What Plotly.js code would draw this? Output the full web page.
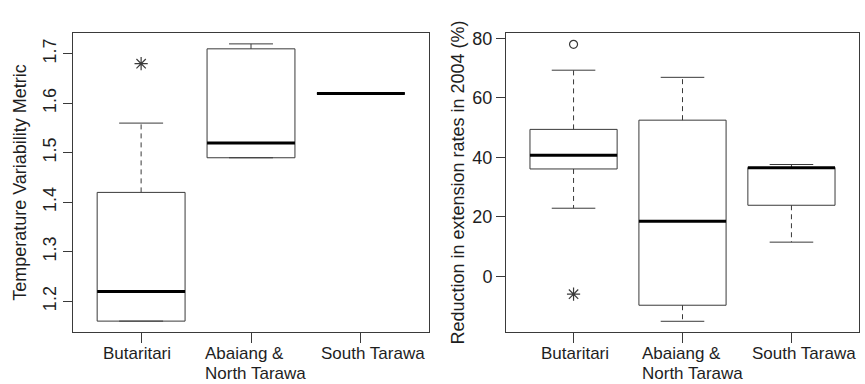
<!DOCTYPE html>
<html>
<head>
<meta charset="utf-8">
<script src="https://cdn.plot.ly/plotly-3.0.1.min.js"></script>
<style>html,body{margin:0;padding:0;background:#fff;}#chart{width:865px;height:384px;}</style>
</head>
<body>
<div id="chart"></div>
<script>
// ---- Data ----
const categories = ['Butaritari', 'Abaiang &<br>North Tarawa', 'South Tarawa'];
const groupPos = [1, 2, 3];

// Left panel: Temperature Variability Metric
const tvmLower  = [1.16, 1.49, 1.62];
const tvmQ1     = [1.16, 1.49, 1.62];
const tvmMedian = [1.22, 1.52, 1.62];
const tvmQ3     = [1.42, 1.71, 1.62];
const tvmUpper  = [1.56, 1.72, 1.62];
const tvmOutStarGroup = [1];
const tvmOutStarValue = [1.68];
const tvmTicks = [1.2, 1.3, 1.4, 1.5, 1.6, 1.7];

// Right panel: Reduction in extension rates in 2004 (%)
const redLower  = [22.9, -15.1, 11.5];
const redQ1     = [36.1, -9.7, 23.9];
const redMedian = [40.7, 18.5, 36.5];
const redQ3     = [49.4, 52.5, 36.6];
const redUpper  = [69.3, 66.9, 37.6];
const redOutCircleGroup = [1];
const redOutCircleValue = [78];
const redOutStarGroup = [1];
const redOutStarValue = [-6];
const redTicks = [0, 20, 40, 60, 80];

// ---- Styles ----
const BOX_HALF = 0.4, CAP_HALF = 0.2;
const LINE_COL = '#3a3a3a', MED_COL = '#000000', TXT_COL = '#1e1e1e';
const FONT = 'Liberation Sans, Arial, sans-serif';
const FS = 18;
const FS_CAT = 17;
// small horizontal nudges (px) of the category label blocks, as in the reference
const labelNudgeLeft  = [-5, 4, 11];
const labelNudgeRight = [0, 9, 12];
const LABEL_LINE_SHIFTS = [-10.8, -31.3];

function boxTraces(lower, q1, med, q3, upper, xa, ya) {
  const bx = [], by = [], wx = [], wy = [], cx = [], cy = [], mx = [], my = [];
  groupPos.forEach((p, i) => {
    bx.push(p - BOX_HALF, p + BOX_HALF, p + BOX_HALF, p - BOX_HALF, p - BOX_HALF, null);
    by.push(q1[i], q1[i], q3[i], q3[i], q1[i], null);
    wx.push(p, p, null, p, p, null);
    wy.push(q3[i], upper[i], null, q1[i], lower[i], null);
    cx.push(p - CAP_HALF, p + CAP_HALF, null, p - CAP_HALF, p + CAP_HALF, null);
    cy.push(upper[i], upper[i], null, lower[i], lower[i], null);
    mx.push(p - BOX_HALF, p + BOX_HALF, null);
    my.push(med[i], med[i], null);
  });
  const base = {type: 'scatter', mode: 'lines', xaxis: xa, yaxis: ya, hoverinfo: 'skip', showlegend: false, connectgaps: false};
  return [
    Object.assign({}, base, {x: wx, y: wy, line: {color: LINE_COL, width: 1, dash: '5px,4px'}}),
    Object.assign({}, base, {x: cx, y: cy, line: {color: LINE_COL, width: 1}}),
    Object.assign({}, base, {x: bx, y: by, line: {color: LINE_COL, width: 1}}),
    Object.assign({}, base, {x: mx, y: my, line: {color: MED_COL, width: 3}})
  ];
}

const starMarker = {symbol: 'asterisk-open', size: 11, color: LINE_COL, line: {color: LINE_COL, width: 1.2}};
const traces = [].concat(
  boxTraces(tvmLower, tvmQ1, tvmMedian, tvmQ3, tvmUpper, 'x', 'y'),
  boxTraces(redLower, redQ1, redMedian, redQ3, redUpper, 'x2', 'y2'),
  [
    {type: 'scatter', mode: 'markers', x: tvmOutStarGroup, y: tvmOutStarValue, xaxis: 'x', yaxis: 'y', showlegend: false, marker: starMarker},
    {type: 'scatter', mode: 'markers', x: redOutCircleGroup, y: redOutCircleValue, xaxis: 'x2', yaxis: 'y2', showlegend: false,
     marker: {symbol: 'circle-open', size: 8, color: LINE_COL, line: {color: LINE_COL, width: 1.2}}},
    {type: 'scatter', mode: 'markers', x: redOutStarGroup, y: redOutStarValue, xaxis: 'x2', yaxis: 'y2', showlegend: false, marker: starMarker}
  ]
);

// category labels: lines left-aligned inside a centred block (as in the reference)
const ctx = document.createElement('canvas').getContext('2d');
ctx.font = FS_CAT + 'px "Liberation Sans", Arial, sans-serif';
const yDomain = [1 - 332 / 384, 1 - 33 / 384];
function categoryLabels(xref, nudges) {
  const anns = [];
  categories.forEach((c, i) => {
    const lines = c.split('<br>');
    const w = Math.max.apply(null, lines.map(l => ctx.measureText(l).width));
    lines.forEach((l, k) => {
      anns.push({
        text: l, xref: xref, yref: 'paper', x: groupPos[i], y: yDomain[0],
        xanchor: 'left', yanchor: 'top', xshift: -w / 2 + nudges[i], yshift: LABEL_LINE_SHIFTS[k],
        showarrow: false, borderpad: 0, align: 'left',
        font: {family: FONT, size: FS_CAT, color: TXT_COL}
      });
    });
  });
  return anns;
}

const xCommon = {
  range: [0.38, 3.62], tickvals: groupPos, showticklabels: false,
  ticks: 'outside', ticklen: 10, tickcolor: LINE_COL, tickwidth: 1,
  showline: true, mirror: true, linecolor: LINE_COL, linewidth: 1,
  showgrid: false, zeroline: false, fixedrange: true
};
const yCommon = {
  ticks: 'outside', ticklen: 9, tickcolor: LINE_COL, tickwidth: 1,
  showline: true, mirror: true, linecolor: LINE_COL, linewidth: 1,
  showgrid: false, zeroline: false, fixedrange: true,
  tickfont: {family: FONT, size: FS, color: TXT_COL}
};

const layout = {
  width: 865, height: 384,
  margin: {l: 0, r: 0, t: 0, b: 0},
  paper_bgcolor: '#ffffff', plot_bgcolor: '#ffffff',
  showlegend: false,
  font: {family: FONT, size: FS, color: TXT_COL},
  xaxis: Object.assign({}, xCommon, {domain: [73 / 865, 429 / 865], anchor: 'y'}),
  yaxis: Object.assign({}, yCommon, {
    domain: yDomain, anchor: 'x', range: [1.138, 1.742],
    tickvals: tvmTicks, ticktext: tvmTicks.map(v => v.toFixed(1)), tickangle: -90,
    title: {text: 'Temperature Variability Metric', font: {family: FONT, size: FS, color: TXT_COL}, standoff: 8}
  }),
  xaxis2: Object.assign({}, xCommon, {domain: [506 / 865, 859 / 865], anchor: 'y2'}),
  yaxis2: Object.assign({}, yCommon, {
    domain: yDomain, anchor: 'x2', range: [-18.7, 81.8],
    tickvals: redTicks, ticktext: redTicks.map(String), tickangle: 0,
    title: {text: 'Reduction in extension rates in 2004 (%)', font: {family: FONT, size: FS, color: TXT_COL}, standoff: 3}
  }),
  annotations: [].concat(categoryLabels('x', labelNudgeLeft), categoryLabels('x2', labelNudgeRight))
};

Plotly.newPlot('chart', traces, layout, {staticPlot: true, displayModeBar: false});
</script>
</body>
</html>
